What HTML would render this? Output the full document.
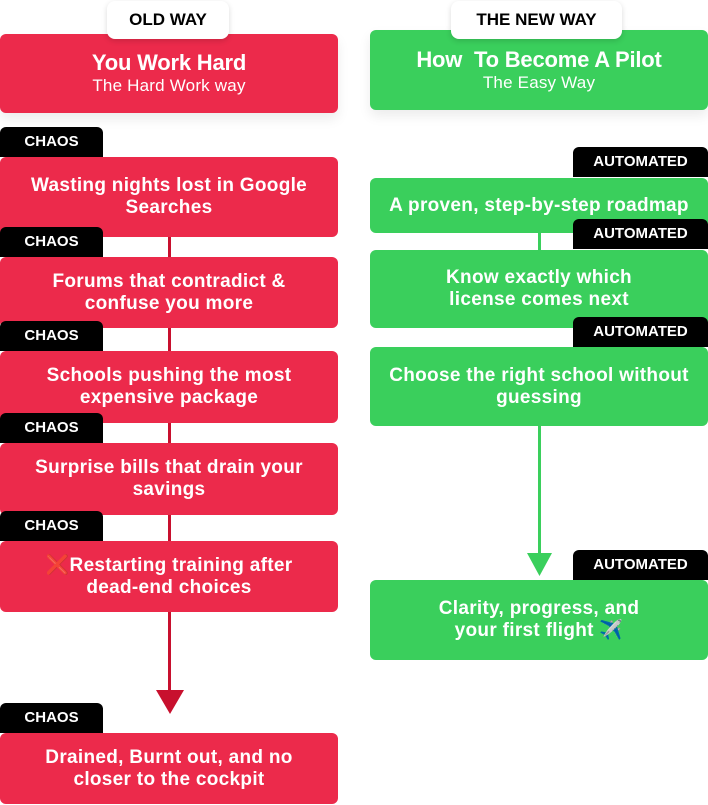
<!DOCTYPE html>
<html><head><style>
body{margin:0;width:708px;height:805px;background:#fff;position:relative;overflow:hidden;font-family:"Liberation Sans",sans-serif}
.a{position:absolute;box-sizing:border-box}
.box{border-radius:6px;color:#fff;font-weight:bold;font-size:19px;text-align:center;display:flex;flex-direction:column;justify-content:center;line-height:22px;letter-spacing:0.3px}
.r{background:#EC2A4B;left:0;width:338px}
.g{background:#3ACF5C;left:370px;width:338px}
.tag{background:#000;color:#fff;font-weight:bold;font-size:15px;text-align:center;line-height:30px;border-radius:6px 6px 0 0;height:30px}
.c{left:0;width:103px}
.au{left:573px;width:135px}
.lbl{background:#fff;border-radius:8px;box-shadow:0 2px 6px rgba(0,0,0,.15);font-weight:bold;font-size:17px;text-align:center;line-height:38px;height:38px;color:#000}
.sub{font-weight:normal;font-size:17px;letter-spacing:0.2px}
.h{font-size:22px;line-height:25px;letter-spacing:-0.2px}
</style></head><body>
<div class="a" style="left:168px;top:237px;width:3px;height:456px;background:#C8102E"></div>
<svg class="a" style="left:156px;top:690px" width="28" height="24"><polygon points="0,0 28,0 14,24" fill="#C8102E"/></svg>
<div class="a" style="left:538px;top:426px;width:3px;height:130px;background:#3ACF5C"></div>
<svg class="a" style="left:527px;top:553px" width="25" height="23"><polygon points="0,0 25,0 12.5,23" fill="#3ACF5C"/></svg>
<div class="a" style="left:538px;top:232px;width:3px;height:20px;background:#3ACF5C"></div>

<div class="a box r" style="top:34px;height:79px;box-shadow:0 6px 12px rgba(0,0,0,.08)"><div class="h">You Work Hard</div><div class="sub">The Hard Work way</div></div>
<div class="a lbl" style="left:107px;top:1px;width:122px">OLD WAY</div>
<div class="a tag c" style="top:127px">CHAOS</div>
<div class="a box r" style="top:157px;height:80px">Wasting nights lost in Google<br>Searches</div>
<div class="a box r" style="top:257px;height:71px">Forums that contradict &amp;<br>confuse you more</div>
<div class="a tag c" style="top:227px">CHAOS</div>
<div class="a box r" style="top:351px;height:72px">Schools pushing the most<br>expensive package</div>
<div class="a tag c" style="top:321px">CHAOS</div>
<div class="a box r" style="top:443px;height:72px">Surprise bills that drain your<br>savings</div>
<div class="a tag c" style="top:413px">CHAOS</div>
<div class="a box r" style="top:541px;height:71px"><div><span style="color:#e0201a">❌</span>Restarting training after<br>dead-end choices</div></div>
<div class="a tag c" style="top:511px">CHAOS</div>
<div class="a tag c" style="top:703px">CHAOS</div>
<div class="a box r" style="top:733px;height:71px">Drained, Burnt out, and no<br>closer to the cockpit</div>

<div class="a box g" style="top:30px;height:80px;box-shadow:0 6px 12px rgba(0,0,0,.08)"><div class="h">How&nbsp; To Become A Pilot</div><div class="sub">The Easy Way</div></div>
<div class="a lbl" style="left:451px;top:1px;width:171px">THE NEW WAY</div>
<div class="a tag au" style="top:147px">AUTOMATED</div>
<div class="a box g" style="top:178px;height:55px">A proven, step-by-step roadmap</div>
<div class="a box g" style="top:250px;height:78px">Know exactly which<br>license comes next</div>
<div class="a tag au" style="top:219px">AUTOMATED</div>
<div class="a box g" style="top:347px;height:79px">Choose the right school without<br>guessing</div>
<div class="a tag au" style="top:317px">AUTOMATED</div>
<div class="a tag au" style="top:550px">AUTOMATED</div>
<div class="a box g" style="top:580px;height:80px">Clarity, progress, and<br>your first flight ✈️</div>
</body></html>
